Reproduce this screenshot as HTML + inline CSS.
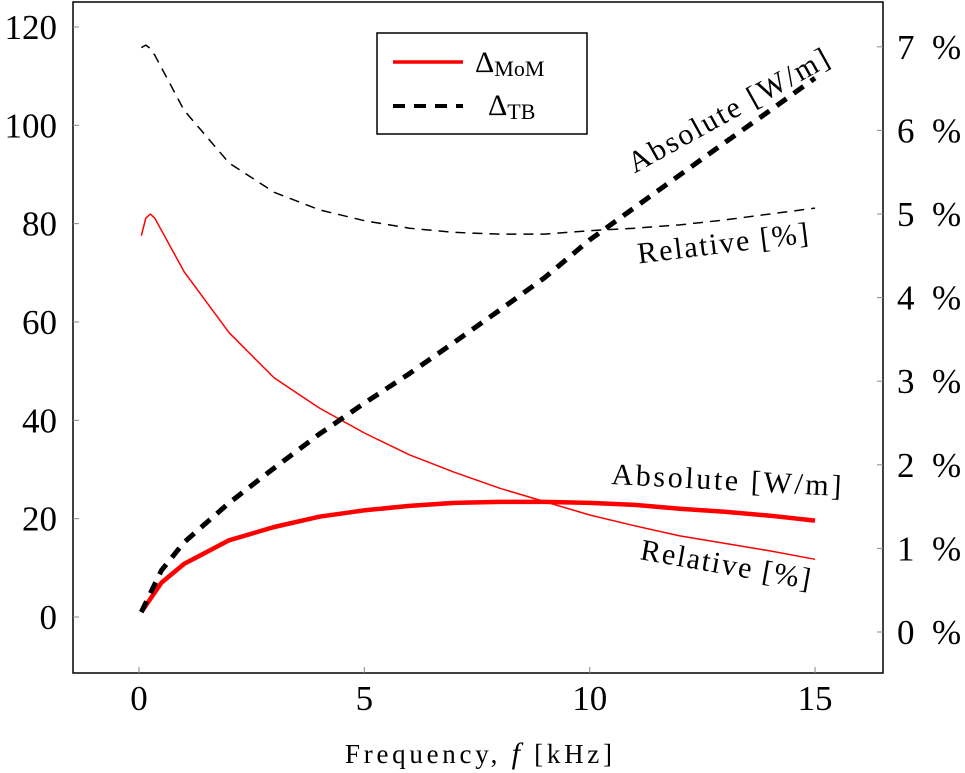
<!DOCTYPE html>
<html><head><meta charset="utf-8"><style>
body{margin:0;background:#fff;}
svg{display:block;font-family:"Liberation Serif",serif;}
</style></head><body>
<svg id="chart" width="965" height="773" viewBox="0 0 965 773">
<rect x="73" y="2" width="810" height="671" fill="none" stroke="#000" stroke-width="1.5"/>
<g id="ticks"></g>
<g id="series"></g>
<text x="345" y="763" font-size="27" textLength="267" lengthAdjust="spacing">Frequency, <tspan font-style="italic" font-size="30">f</tspan>  [kHz]</text>
<text transform="translate(733,119) rotate(-29)" font-size="30" text-anchor="middle" textLength="225" lengthAdjust="spacing">Absolute [W/m]</text>
<text transform="translate(724,253) rotate(-7)" font-size="30" text-anchor="middle" textLength="172" lengthAdjust="spacing">Relative [%]</text>
<text transform="translate(726,490) rotate(3)" font-size="30" text-anchor="middle" textLength="230" lengthAdjust="spacing">Absolute [W/m]</text>
<text transform="translate(724,574) rotate(10)" font-size="30" text-anchor="middle" textLength="172" lengthAdjust="spacing">Relative [%]</text>
<g>
<rect x="377" y="33" width="210" height="101" fill="#fff" stroke="#000" stroke-width="1.5"/>
<line x1="393" y1="62" x2="463" y2="62" stroke="red" stroke-width="3.5"/>
<text x="475" y="72" font-size="30">Δ<tspan font-size="22" dy="4">MoM</tspan></text>
<line x1="393" y1="106" x2="463" y2="106" stroke="#000" stroke-width="4" stroke-dasharray="12,9"/>
<text x="488" y="115" font-size="30">Δ<tspan font-size="22" dy="4">TB</tspan></text>
</g>
</svg>
<script>
const freqAbs=[0.05,0.5,1,2,3,4,5,6,7,8,9,10,11,12,13,14,15];
const absMoM=[1,7,10.8,15.6,18.3,20.4,21.7,22.6,23.2,23.4,23.4,23.2,22.8,22.0,21.4,20.6,19.6];
const absTB=[1,9.5,15.2,23.2,30.3,37.2,43.5,49.5,55.9,62.4,69,76.7,83.3,89.9,96.5,103,109.6];
const freqRel=[0.05,0.15,0.25,0.35,1,2,3,4,5,6,7,8,9,10,11,12,13,14,15];
const relMoM=[4.74,4.95,5.0,4.95,4.31,3.58,3.04,2.68,2.38,2.12,1.91,1.72,1.56,1.40,1.27,1.15,1.06,0.97,0.87];
const relTB=[6.99,7.02,6.98,6.9,6.24,5.61,5.26,5.05,4.92,4.83,4.78,4.76,4.76,4.80,4.83,4.87,4.93,5.0,5.07];
const xTicks=[0,5,10,15];
const yTicks=[0,20,40,60,80,100,120];
const y2Ticks=[0,1,2,3,4,5,6,7];
const X=f=>139+f*45.07;
const Y=v=>617-v*4.917;
const Y2=p=>632-p*83.6;
const NS="http://www.w3.org/2000/svg";
const tg=document.getElementById('ticks'), sg=document.getElementById('series');
function mk(tag,at,par){const e=document.createElementNS(NS,tag);for(const k in at)e.setAttribute(k,at[k]);par.appendChild(e);return e;}
xTicks.forEach(t=>{
  const l=mk('line',{x1:X(t),x2:X(t),y1:673,y2:667,stroke:'#888'},tg);
  
  
  const tx=mk('text',{x:X(t),y:710,'font-size':35,'text-anchor':'middle'},tg);tx.textContent=t;
  
  
});
yTicks.forEach(t=>{
  const l=mk('line',{x1:73,x2:79,y1:Y(t),y2:Y(t),stroke:'#888'},tg);
  
  
  const tx=mk('text',{x:57,y:Y(t)+12,'font-size':35,'text-anchor':'end'},tg);tx.textContent=t;
  
  
});
y2Ticks.forEach(t=>{
  const l=mk('line',{x1:877,x2:883,y1:Y2(t),y2:Y2(t),stroke:'#888'},tg);
  
  
  const tx=mk('text',{x:897,y:Y2(t)+12,'font-size':35},tg);tx.textContent=t+'\u2002%';
  
  
});
function line(xs,vs,yf,st,name){
  const d=xs.map((f,i)=>(i?'L':'M')+X(f).toFixed(1)+','+yf(vs[i]).toFixed(1)).join(' ');
  const p=mk('path',Object.assign({d:d,fill:'none','stroke-linejoin':'round'},st),sg);
  
  
}
line(freqRel,relMoM,Y2,{stroke:'red','stroke-width':1.5},'relative-mom-line');
line(freqRel,relTB,Y2,{stroke:'#000','stroke-width':1.5,'stroke-dasharray':'10,7'},'relative-tb-line');
line(freqAbs,absMoM,Y,{stroke:'red','stroke-width':4.5},'absolute-mom-line');
line(freqAbs,absTB,Y,{stroke:'#000','stroke-width':5,'stroke-dasharray':'12,9'},'absolute-tb-line');
</script>
</body></html>
